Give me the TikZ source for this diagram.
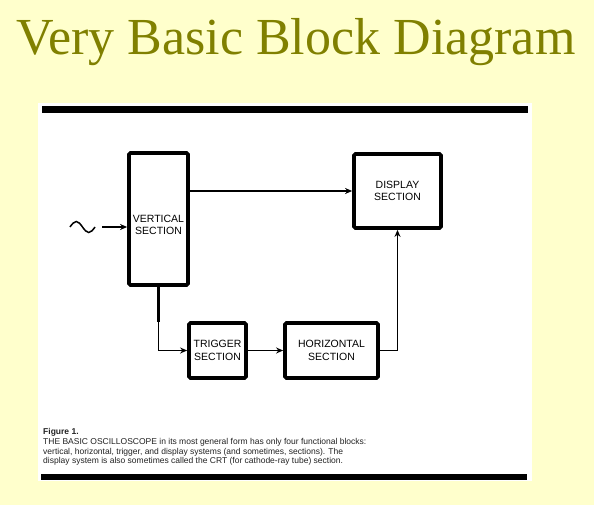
\documentclass[tikz,border=0pt]{standalone}
\usepackage{fontspec}
\setmainfont{Liberation Serif}
\newfontfamily\capfont{Liberation Sans}
\usetikzlibrary{arrows.meta}
\definecolor{bgyellow}{HTML}{FFFFCC}
\definecolor{olive}{HTML}{808000}
\definecolor{captext}{HTML}{222222}
\tikzset{
  blockbox/.style={draw=black, line width=3.8pt, rounded corners=1.5pt, fill=white,
    inner sep=0pt, align=center, font=\capfont\fontsize{10.5}{12.5}\selectfont},
  conn/.style={line width=1.5pt, -{Stealth[length=7pt,width=6pt]}},
  heavyline/.style={line width=3pt},
  bar/.style={fill=black, draw=none},
}
\begin{document}
\begin{tikzpicture}[x=1pt,y=-1pt]
\useasboundingbox (0,0) rectangle (594,505);
\fill[bgyellow] (0,0) rectangle (594,505);
% title
\node[anchor=base, text=olive, font=\fontsize{52}{60}\selectfont, inner sep=0pt] (title) at (296,55) {Very Basic Block Diagram};
% panel
\fill[white] (38,103) rectangle (532,481);
\fill[bar] (42,106) rectangle (528,113);
\fill[bar] (41,474) rectangle (527,480);
% blocks
\node[blockbox, minimum width=59pt, minimum height=132pt,
  label={[font=\capfont\fontsize{10.5}{12.5}\selectfont, align=center, yshift=-6pt]center:VERTICAL\\SECTION}] (vert) at (158.5,219) {};
\node[blockbox, minimum width=87pt, minimum height=74pt] (disp) at (397.5,191) {DISPLAY\\SECTION};
\node[blockbox, minimum width=57pt, minimum height=55pt] (trig) at (217.5,350.5) {TRIGGER\\SECTION};
\node[blockbox, minimum width=93pt, minimum height=55pt] (horiz) at (331.5,350.5) {HORIZONTAL\\SECTION};
% input sine
\coordinate (sinestart) at (70,227);
\coordinate (sineend) at (95,227);
\coordinate (inarrow) at (102,227);
\draw[line width=1.5pt] (sinestart) sin (76.25,221.5) cos (82.5,227) sin (88.75,232.5) cos (sineend);
\draw[conn] (inarrow) -- (vert.west |- inarrow);
% connectors
\draw[conn] (vert.east |- disp.west) -- (disp.west);
\coordinate (bendv) at (158.5,322);
\draw[heavyline] (vert.south) -- (bendv);
\draw[conn] (bendv) |- (trig.west);
\draw[conn] (trig.east) -- (horiz.west);
\draw[conn] (horiz.east) -| (disp.south);
% caption
\node[anchor=north west, inner sep=0pt, align=left, text=captext,
  font=\capfont\fontsize{8.5}{9.7}\selectfont] (caption) at (43,428.5)
{\textbf{Figure 1.}\\
THE BASIC OSCILLOSCOPE in its most general form has only four functional blocks:\\
vertical, horizontal, trigger, and display systems (and sometimes, sections). The\\
display system is also sometimes called the CRT (for cathode-ray tube) section.};
\end{tikzpicture}
\end{document}
